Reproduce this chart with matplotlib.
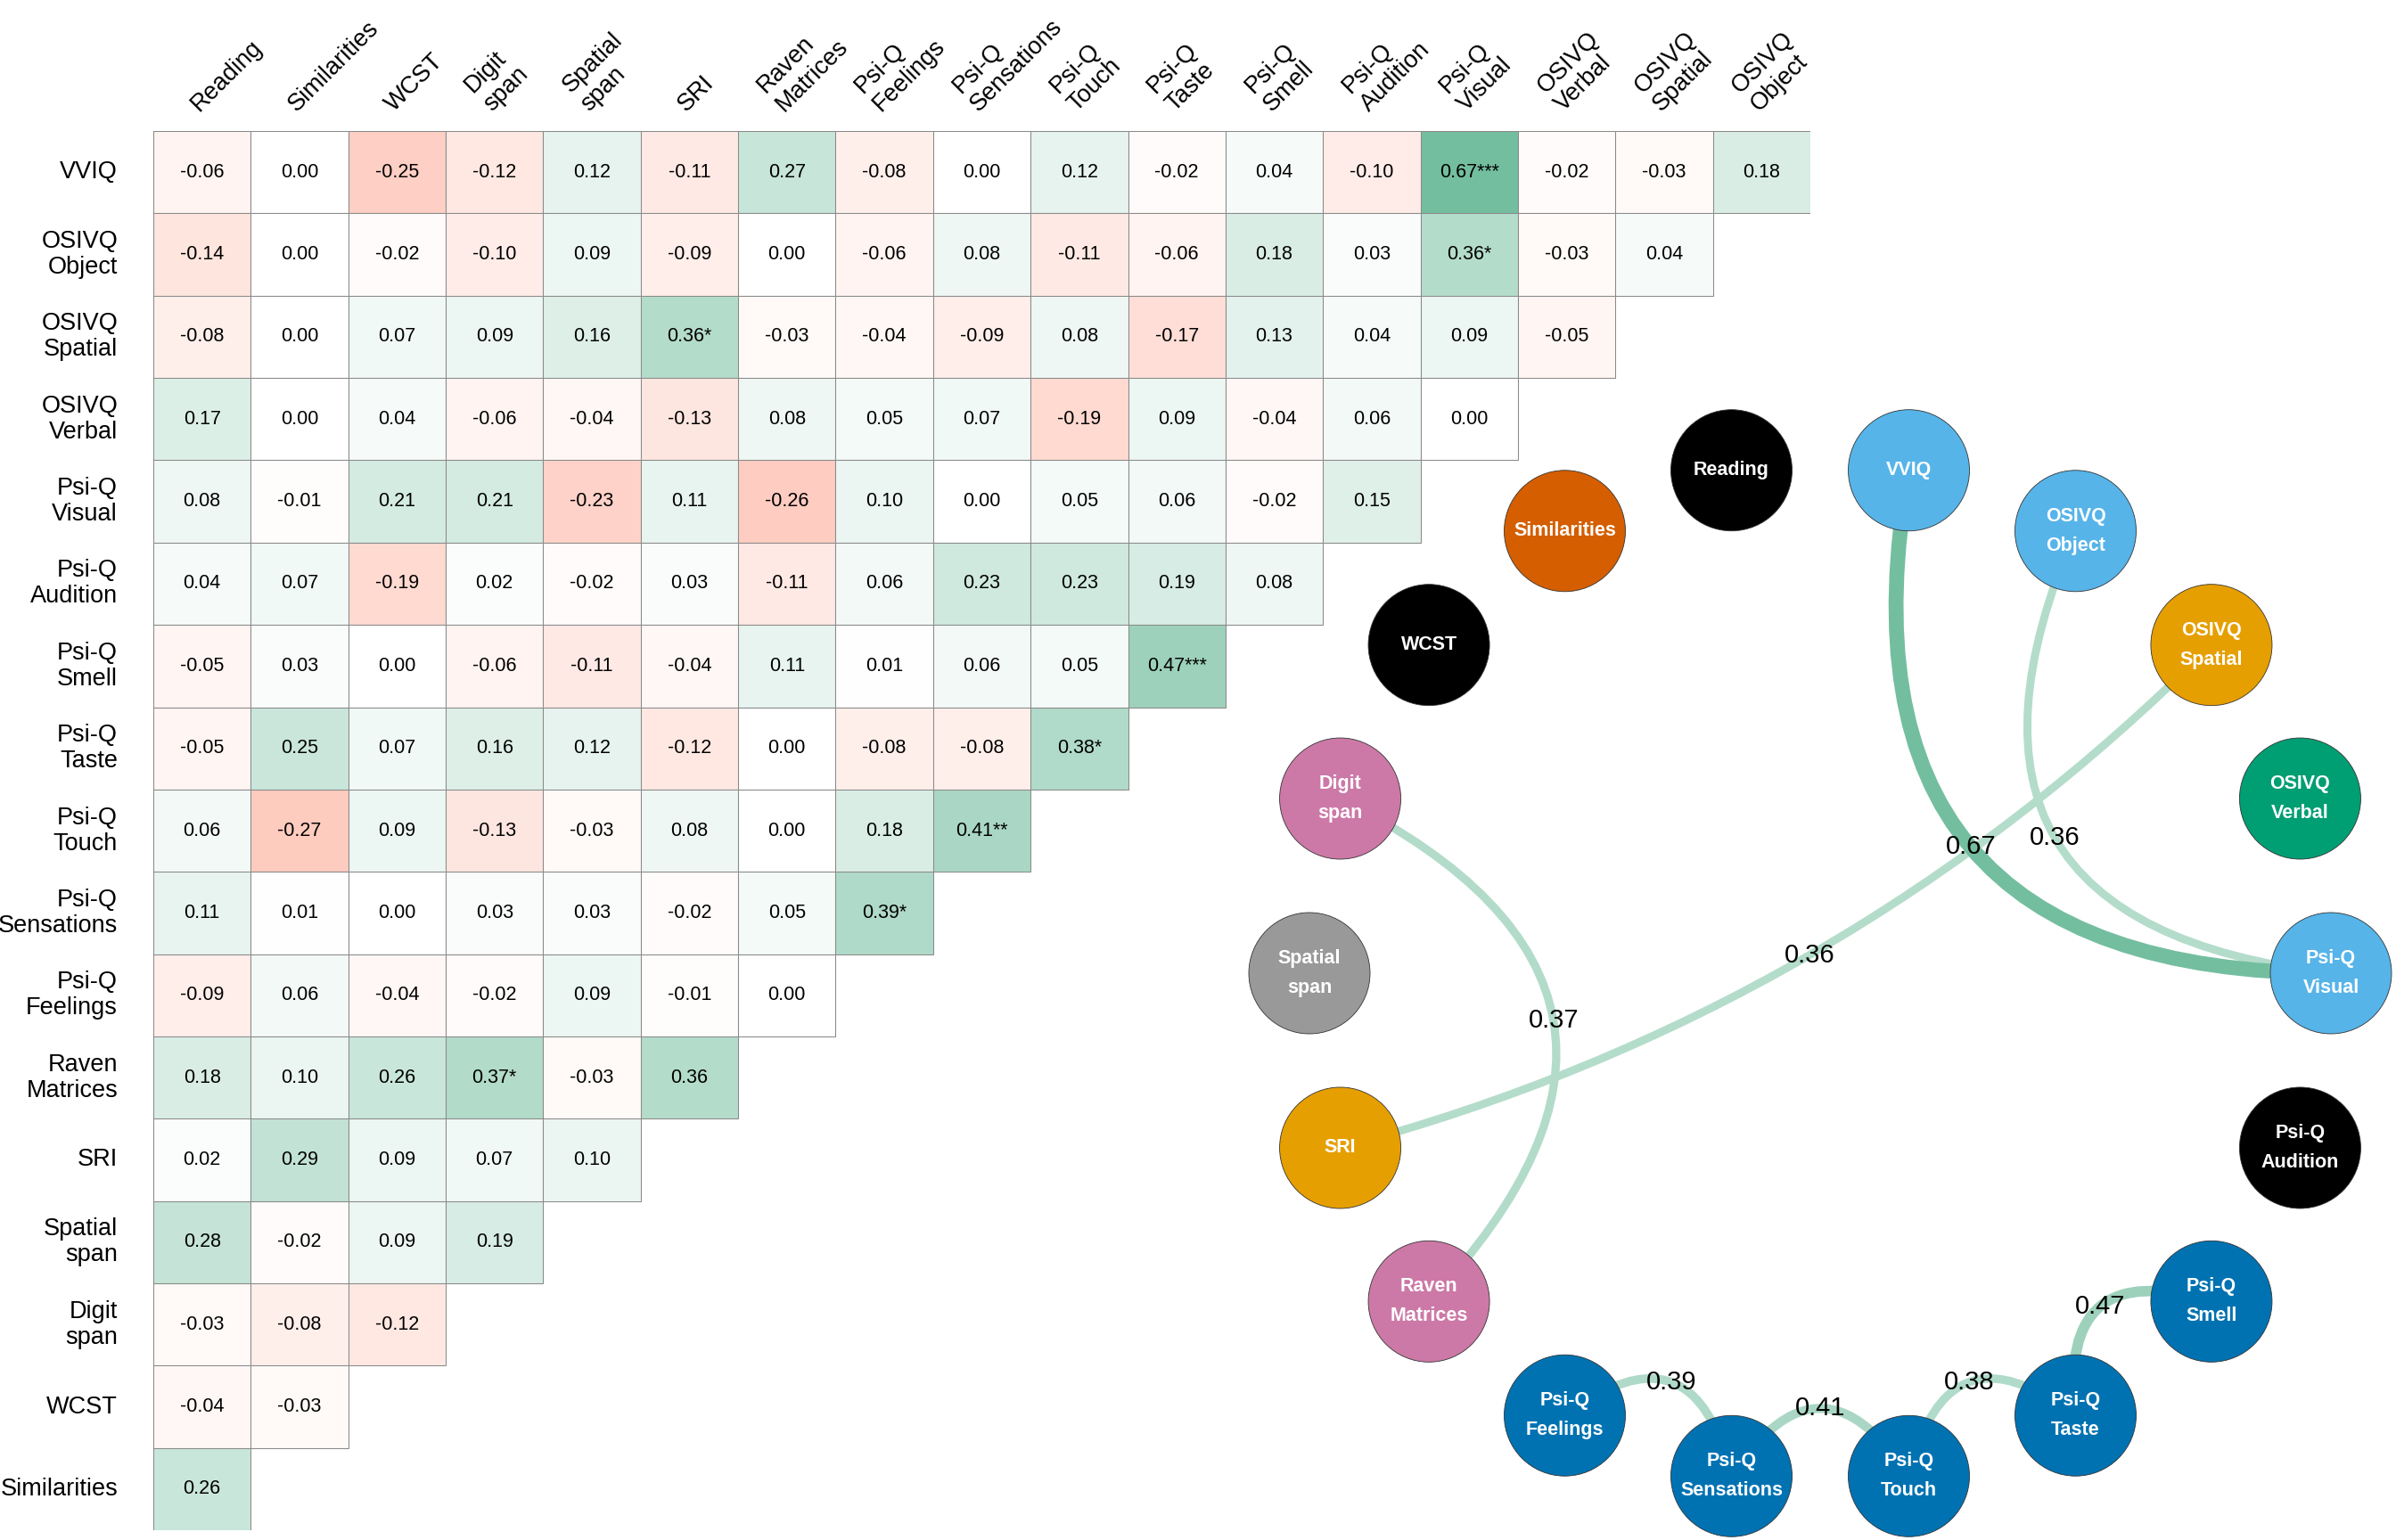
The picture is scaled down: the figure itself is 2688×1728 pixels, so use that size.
import numpy as np
import matplotlib
matplotlib.use("Agg")
import matplotlib.pyplot as plt
from matplotlib.colors import LinearSegmentedColormap, Normalize
from matplotlib.patches import Rectangle, Circle, PathPatch
from matplotlib.path import Path
from matplotlib.transforms import ScaledTranslation

plt.rcParams['font.family'] = ['Liberation Sans', 'DejaVu Sans']

name_of_file = "out.png"

# heatmap rows (top to bottom) and columns (left to right)
rows = ["VVIQ", "OSIVQ\nObject", "OSIVQ\nSpatial", "OSIVQ\nVerbal", "Psi-Q\nVisual",
        "Psi-Q\nAudition", "Psi-Q\nSmell", "Psi-Q\nTaste", "Psi-Q\nTouch",
        "Psi-Q\nSensations", "Psi-Q\nFeelings", "Raven\nMatrices", "SRI",
        "Spatial\nspan", "Digit\nspan", "WCST", "Similarities"]
cols = ["Reading", "Similarities", "WCST", "Digit\nspan", "Spatial\nspan", "SRI",
        "Raven\nMatrices", "Psi-Q\nFeelings", "Psi-Q\nSensations", "Psi-Q\nTouch",
        "Psi-Q\nTaste", "Psi-Q\nSmell", "Psi-Q\nAudition", "Psi-Q\nVisual",
        "OSIVQ\nVerbal", "OSIVQ\nSpatial", "OSIVQ\nObject"]

# correlations, row i has 17 - i values
corr = [
    [-0.06, 0.00, -0.25, -0.12, 0.12, -0.11, 0.27, -0.08, 0.00, 0.12, -0.02, 0.04, -0.10, 0.67, -0.02, -0.03, 0.18],
    [-0.14, 0.00, -0.02, -0.10, 0.09, -0.09, 0.00, -0.06, 0.08, -0.11, -0.06, 0.18, 0.03, 0.36, -0.03, 0.04],
    [-0.08, 0.00, 0.07, 0.09, 0.16, 0.36, -0.03, -0.04, -0.09, 0.08, -0.17, 0.13, 0.04, 0.09, -0.05],
    [0.17, 0.00, 0.04, -0.06, -0.04, -0.13, 0.08, 0.05, 0.07, -0.19, 0.09, -0.04, 0.06, 0.00],
    [0.08, -0.01, 0.21, 0.21, -0.23, 0.11, -0.26, 0.10, 0.00, 0.05, 0.06, -0.02, 0.15],
    [0.04, 0.07, -0.19, 0.02, -0.02, 0.03, -0.11, 0.06, 0.23, 0.23, 0.19, 0.08],
    [-0.05, 0.03, 0.00, -0.06, -0.11, -0.04, 0.11, 0.01, 0.06, 0.05, 0.47],
    [-0.05, 0.25, 0.07, 0.16, 0.12, -0.12, 0.00, -0.08, -0.08, 0.38],
    [0.06, -0.27, 0.09, -0.13, -0.03, 0.08, 0.00, 0.18, 0.41],
    [0.11, 0.01, 0.00, 0.03, 0.03, -0.02, 0.05, 0.39],
    [-0.09, 0.06, -0.04, -0.02, 0.09, -0.01, 0.00],
    [0.18, 0.10, 0.26, 0.37, -0.03, 0.36],
    [0.02, 0.29, 0.09, 0.07, 0.10],
    [0.28, -0.02, 0.09, 0.19],
    [-0.03, -0.08, -0.12],
    [-0.04, -0.03],
    [0.26],
]

# significance stars (row, column)
stars = {
    ("VVIQ", "Psi-Q\nVisual"): "***",
    ("OSIVQ\nObject", "Psi-Q\nVisual"): "*",
    ("OSIVQ\nSpatial", "SRI"): "*",
    ("Psi-Q\nSmell", "Psi-Q\nTaste"): "***",
    ("Psi-Q\nTaste", "Psi-Q\nTouch"): "*",
    ("Psi-Q\nTouch", "Psi-Q\nSensations"): "**",
    ("Psi-Q\nSensations", "Psi-Q\nFeelings"): "*",
    ("Raven\nMatrices", "Digit\nspan"): "*",
}

# network nodes, clockwise starting at VVIQ
nodes = rows + ["Reading"]
node_colors = ["#56B4E9", "#56B4E9", "#E69F00", "#009E73", "#56B4E9", "#000000",
               "#0072B2", "#0072B2", "#0072B2", "#0072B2", "#0072B2", "#CC79A7",
               "#E69F00", "#999999", "#CC79A7", "#000000", "#D55E00", "#000000"]

W, H = 2688, 1728
DPI = 100

cmap = LinearSegmentedColormap.from_list(
    "rg", [(251 / 255, 62 / 255, 18 / 255), (1, 1, 1), (48 / 255, 158 / 255, 113 / 255)])
norm = Normalize(-1, 1)


def main():
    fig = plt.figure(figsize=(W / DPI, H / DPI), dpi=DPI)

    # ---- heatmap ----
    n = len(rows)
    left, top, cw, ch = 172, 147, 109.35, 92.36
    ax = fig.add_axes([left / W, 1 - (top + n * ch) / H, n * cw / W, n * ch / H])
    ax.set_xlim(0, n)
    ax.set_ylim(n, 0)
    ax.axis('off')

    for i, row in enumerate(corr):
        for j, v in enumerate(row):
            ax.add_patch(Rectangle((j, i), 1, 1, facecolor=cmap(norm(v)),
                                   edgecolor='#8a8a8a', lw=0.75))
            s = stars.get((rows[i], cols[j]), "")
            ax.text(j + 0.5, i + 0.5, f"{v:.2f}{s}", ha='center', va='center', fontsize=15.5)

    col_off = ax.transData + ScaledTranslation(1 / DPI, 17 / DPI, fig.dpi_scale_trans)
    for j, c in enumerate(cols):
        ax.text(j + 0.5, 0, c, transform=col_off, rotation=45, rotation_mode='anchor',
                ha='left', va='bottom', fontsize=19.5, linespacing=1.15)

    row_off = ax.transData + ScaledTranslation(-40 / DPI, 0, fig.dpi_scale_trans)
    for i, r in enumerate(rows):
        ax.text(0, i + 0.5, r, transform=row_off, ha='right', va='center',
                fontsize=19.5, linespacing=1.15, multialignment='right')

    # ---- network ----
    cx, cy, R = 2042, 1092, 573
    half = 1.2
    nax = fig.add_axes([(cx - half * R) / W, (H - cy - half * R) / H,
                        2 * half * R / W, 2 * half * R / H])
    nax.set_xlim(-half, half)
    nax.set_ylim(-half, half)
    nax.axis('off')

    ang = np.deg2rad(80 - 20 * np.arange(len(nodes)))
    pos = {name: np.array([np.cos(a), np.sin(a)]) for name, a in zip(nodes, ang)}

    # edges = significant correlations
    edges = []
    for (rname, cname) in stars:
        i, j = rows.index(rname), cols.index(cname)
        edges.append((rname, cname, corr[i][j]))

    for a, b, r in sorted(edges, key=lambda e: e[2]):
        p0, p2 = pos[a], pos[b]
        m = (p0 + p2) / 2
        f = np.linalg.norm(p2 - p0) / 1.29
        c = m + f * (np.zeros(2) - m)
        path = Path([p0, c, p2], [Path.MOVETO, Path.CURVE3, Path.CURVE3])
        nax.add_patch(PathPatch(path, facecolor='none', edgecolor=cmap(norm(r)),
                                lw=18 * abs(r), capstyle='butt', zorder=1, clip_on=False))
        mid = 0.25 * p0 + 0.5 * c + 0.25 * p2
        nax.text(mid[0], mid[1], f"{r:.2f}", ha='center', va='center', fontsize=21, zorder=5)

    for name, col in zip(nodes, node_colors):
        x, y = pos[name]
        nax.add_patch(Circle((x, y), 68 / R, facecolor=col, edgecolor='#333333',
                             lw=0.6, zorder=3, clip_on=False))
        nax.text(x, y, name, ha='center', va='center', color='white', fontsize=15.5,
                 fontweight='bold', linespacing=1.75, zorder=4)

    fig.savefig(name_of_file, dpi=DPI)


if __name__ == "__main__":
    main()
